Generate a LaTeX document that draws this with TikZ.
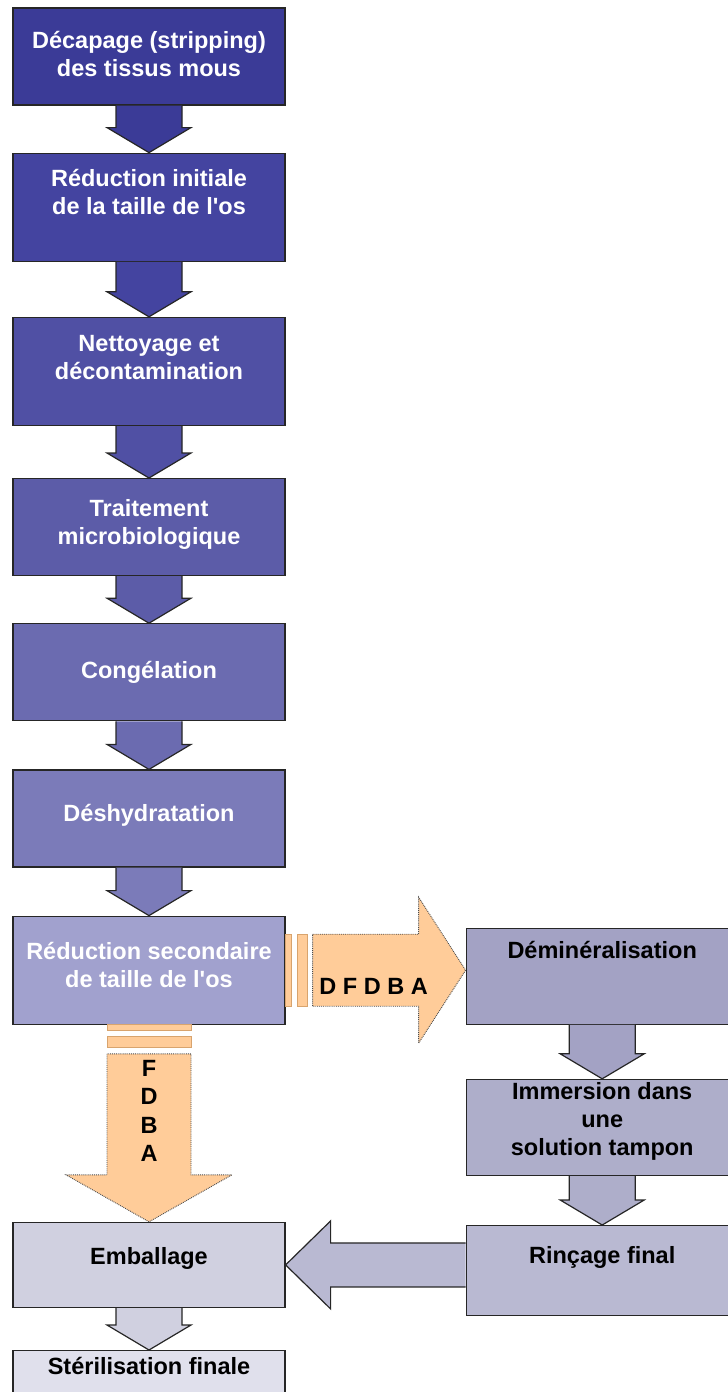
\documentclass[tikz,border=0pt]{standalone}
\usepackage{fontspec}
\setmainfont{Liberation Sans}
\usetikzlibrary{positioning,calc}

\definecolor{c1}{HTML}{3B3B97}
\definecolor{c2}{HTML}{4444A0}
\definecolor{c3}{HTML}{5050A4}
\definecolor{c4}{HTML}{5C5CA8}
\definecolor{c5}{HTML}{6B6BB0}
\definecolor{c6}{HTML}{7B7BB9}
\definecolor{c7}{HTML}{A1A1CE}
\definecolor{c8}{HTML}{A3A2C4}
\definecolor{c9}{HTML}{AEAECA}
\definecolor{c10}{HTML}{B9B9D2}
\definecolor{c11}{HTML}{D0D0E0}
\definecolor{c12}{HTML}{E0E0EC}
\definecolor{peach}{HTML}{FFCC99}
\definecolor{peachline}{HTML}{D8A46E}

\begin{document}
\begin{tikzpicture}[x=1pt,y=1pt,
    stepbox/.style={rectangle,draw=black!85,line width=1.2pt,minimum width=272pt,
                    minimum height=97pt,inner sep=3pt,align=center,
                    font=\bfseries\fontsize{23.5}{28}\selectfont},
    tall/.style={minimum height=108pt},
    fat down/.style={draw=black!85,line width=1.2pt,to path={
        let \p1=(\tikztostart.south), \p2=(\tikztotarget.north) in
        (\x1-33pt,\y1) -- (\x1-33pt,\y2+25pt) -- (\x1-42pt,\y2+25pt) -- (\x2,\y2)
        -- (\x1+42pt,\y2+25pt) -- (\x1+33pt,\y2+25pt) -- (\x1+33pt,\y1)}},
    fat left/.style={draw=black!85,line width=1.2pt,to path={
        let \p1=(\tikztostart.west), \p2=(\tikztotarget.east) in
        (\x1,\y2+22pt) -- (\x2+45pt,\y2+22pt) -- (\x2+45pt,\y2+44pt) -- (\x2,\y2)
        -- (\x2+45pt,\y2-44pt) -- (\x2+45pt,\y2-22pt) -- (\x1,\y2-22pt)}},
    peach down/.style={draw=black!70,line width=0.9pt,densely dotted,fill=peach,to path={
        let \p1=(\tikztostart.south), \p2=(\tikztotarget.north) in
        (\x1-42pt,\y1-29pt) -- (\x1-42pt,\y2+47pt) -- (\x1-83pt,\y2+47pt) -- (\x2,\y2)
        -- (\x1+83pt,\y2+47pt) -- (\x1+42pt,\y2+47pt) -- (\x1+42pt,\y1-29pt) -- cycle}},
    peach right/.style={draw=black!70,line width=0.9pt,densely dotted,fill=peach,to path={
        let \p1=(\tikztostart.east), \p2=(\tikztotarget.west) in
        (\x1+27pt,\y1+36pt) -- (\x2-47pt,\y1+36pt) -- (\x2-47pt,\y1+73pt) -- (\x2,\y1)
        -- (\x2-47pt,\y1-73pt) -- (\x2-47pt,\y1-36pt) -- (\x1+27pt,\y1-36pt) -- cycle}},
    peach bar/.style={draw=peachline,line width=0.8pt,fill=peach},
    peach label/.style={align=center,font=\bfseries\fontsize{23.5}{28.5}\selectfont}]
  \clip (0,0) rectangle (728,-1392);
  % left column
  \node[stepbox,fill=c1,text=white,text depth=5pt] (b1) at (149,-56.5) {Décapage (stripping)\\des tissus mous};
  \node[stepbox,tall,fill=c2,text=white,text depth=30pt] (b2) [below=47pt of b1] {Réduction initiale\\de la taille de l\textquotesingle os};
  \node[stepbox,tall,fill=c3,text=white,text depth=27pt] (b3) [below=55pt of b2] {Nettoyage et\\décontamination};
  \node[stepbox,fill=c4,text=white,text depth=10pt] (b4) [below=52pt of b3] {Traitement\\microbiologique};
  \node[stepbox,fill=c5,text=white] (b5) [below=47pt of b4] {Congélation};
  \node[stepbox,fill=c6,text=white,text depth=11pt] (b6) [below=48pt of b5] {Déshydratation};
  \node[stepbox,tall,fill=c7,text=white,text depth=10pt] (b7) [below=48pt of b6] {Réduction secondaire\\de taille de l\textquotesingle os};
  % right column
  \node[stepbox,minimum height=96pt,fill=c8,text depth=52pt] (dem) [right=180pt of b7.south east,anchor=south west] {Déminéralisation};
  \node[stepbox,minimum height=96pt,inner ysep=0pt,fill=c9,text depth=17pt] (imm) [below=54pt of dem] {Immersion dans\\une\\solution tampon};
  \node[stepbox,minimum height=90pt,fill=c10,text depth=31pt] (rin) [below=49pt of imm] {Rinçage final};
  % bottom
  \node[stepbox,minimum height=85pt,fill=c11,text depth=17pt] (emb) [below=197pt of b7] {Emballage};
  \node[stepbox,fill=c12,text depth=67pt] (ste) [below=42pt of emb] {Stérilisation finale};

  \path
    (b1) edge[fat down,fill=c1] (b2)
    (b2) edge[fat down,fill=c2] (b3)
    (b3) edge[fat down,fill=c3] (b4)
    (b4) edge[fat down,fill=c4] (b5)
    (b5) edge[fat down,fill=c5] (b6)
    (b6) edge[fat down,fill=c6] (b7)
    (dem) edge[fat down,fill=c8] (imm)
    (imm) edge[fat down,fill=c9] (rin)
    (rin) edge[fat left,fill=c10] (emb)
    (emb) edge[fat down,fill=c11] (ste)
    (b7) edge[peach right] (dem)
    (b7) edge[peach down] (emb);

  \draw[peach bar] ([yshift=36pt]b7.east) rectangle ++(6,-72)
                   ([xshift=12pt,yshift=36pt]b7.east) rectangle ++(10,-72);
  \draw[peach bar] ([xshift=-42pt]b7.south) rectangle ++(84,-6)
                   ([xshift=-42pt,yshift=-12pt]b7.south) rectangle ++(84,-11);
  \node[peach label] (dfdba) at ([xshift=88pt,yshift=-16pt]b7.east) {D F D B A};
  \node[peach label] (fdba) at ([yshift=-86pt]b7.south) {F\\D\\B\\A};
\end{tikzpicture}
\end{document}
